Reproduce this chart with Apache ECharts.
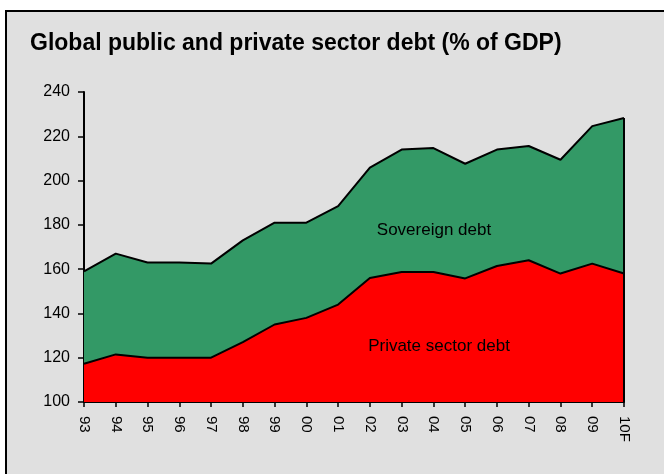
<!DOCTYPE html>
<html>
<head>
<meta charset="utf-8">
<script src="https://cdn.jsdelivr.net/npm/echarts@6/dist/echarts.min.js"></script>
<style>
html,body{margin:0;padding:0;background:#ffffff;}
#chart{width:664px;height:474px;}
</style>
</head>
<body>
<div id="chart"></div>
<script>
var categories = ['93','94','95','96','97','98','99','00','01','02','03','04','05','06','07','08','09','10F'];
var privateDebt = [117.3,121.5,120,120,120,127,135,138,144,156,158.7,158.7,155.8,161.4,164,158,162.5,158];
var totalDebt = [159,167,163,163,162.5,173,181,181,188.5,205.8,214,214.7,207.6,214,215.6,209.4,224.6,228.3];
var sovereignDebt = totalDebt.map(function(t,i){return +(t - privateDebt[i]).toFixed(1);});
var yTicks = {min:100, max:240, interval:20};

var chart = echarts.init(document.getElementById('chart'), null, {renderer:'canvas'});
var font = 'Liberation Sans, Arial, sans-serif';
chart.setOption({
  animation:false,
  backgroundColor:'transparent',
  graphic:[
    {type:'rect', z:-10, shape:{x:6, y:11, width:700, height:500}, style:{fill:'#e0e0e0', stroke:'#000', lineWidth:2}},
    {type:'text', x:30, y:44, style:{text:'Global public and private sector debt (% of GDP)', font:'bold 23px '+font, fill:'#000', verticalAlign:'middle'}},
    {type:'text', x:434, y:230, style:{text:'Sovereign debt', font:'17px '+font, fill:'#000', align:'center', verticalAlign:'middle'}, z:100},
    {type:'text', x:439, y:346, style:{text:'Private sector debt', font:'17px '+font, fill:'#000', align:'center', verticalAlign:'middle'}, z:100}
  ],
  grid:{left:84, right:40, top:92, bottom:72, containLabel:false},
  xAxis:{
    type:'category', data:categories, boundaryGap:false,
    axisLine:{show:true, lineStyle:{color:'#000', width:2}},
    axisTick:{show:true, alignWithLabel:true, length:5, lineStyle:{color:'#000', width:1.5}},
    axisLabel:{rotate:-90, color:'#000', fontSize:15, fontFamily:font, margin:14, interval:0},
    splitLine:{show:false}
  },
  yAxis:{
    type:'value', min:yTicks.min, max:yTicks.max, interval:yTicks.interval,
    axisLine:{show:true, lineStyle:{color:'#000', width:2}},
    axisTick:{show:true, length:6, lineStyle:{color:'#000', width:1.5}},
    axisLabel:{color:'#000', fontSize:16, fontFamily:font, margin:14},
    splitLine:{show:false}
  },
  series:[
    {name:'Private sector debt', type:'line', stack:'debt', data:privateDebt, symbol:'none',
     lineStyle:{color:'#000', width:2}, areaStyle:{color:'#ff0000', opacity:1}, z:3},
    {name:'Sovereign debt', type:'line', stack:'debt', data:sovereignDebt, symbol:'none',
     lineStyle:{color:'#000', width:2}, areaStyle:{color:'#339966', opacity:1}, z:2,
     markLine:{silent:true, symbol:['none','none'], label:{show:false}, lineStyle:{color:'#000', width:2, type:'solid'},
       data:[[{coord:[categories[categories.length-1], yTicks.min]},{coord:[categories[categories.length-1], totalDebt[totalDebt.length-1]]}]]}}
  ]
});
</script>
</body>
</html>
